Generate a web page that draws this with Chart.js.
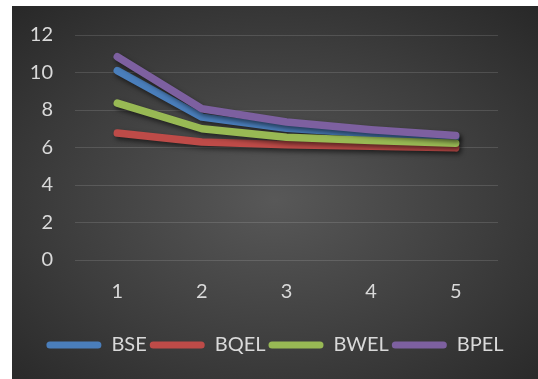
<!DOCTYPE html>
<html>
<head>
<meta charset="utf-8">
<script src="https://cdn.jsdelivr.net/npm/chart.js@4.4.1/dist/chart.umd.min.js"></script>
<style>
  html, body { margin: 0; padding: 0; background: #ffffff; }
  #wrap {
    position: absolute; left: 12px; top: 6px; width: 526px; height: 373px;
    background: radial-gradient(ellipse 75% 75% at 50% 52%, #585858 0%, #3d3d3d 55%, #262626 100%);
  }
  canvas { display: block; }
</style>
</head>
<body>
<div id="wrap"><canvas id="c" width="526" height="373"></canvas></div>
<script>
// x categories
const categories = ['1', '2', '3', '4', '5'];

// series values
const bse  = [10.1, 7.62, 7.03, 6.73, 6.55];
const bqel = [6.77, 6.29, 6.15, 6.07, 5.98];
const bwel = [8.37, 7.0, 6.55, 6.37, 6.23];
const bpel = [10.84, 8.07, 7.36, 6.95, 6.64];

const seriesNames  = ['BSE', 'BQEL', 'BWEL', 'BPEL'];
const seriesValues = [bse, bqel, bwel, bpel];
const seriesColors = ['#4a7ebb', '#be4b48', '#98b954', '#7d60a0'];

// y tick range
const yMin = 0, yMax = 12, yStep = 2;

const textColor = '#d9d9d9';
const fontFamily = 'Lato, "Open Sans", sans-serif';

// soft drop shadow beneath each line
const lineShadow = {
  id: 'lineShadow',
  beforeDatasetDraw(chart) {
    const ctx = chart.ctx;
    ctx.save();
    ctx.shadowColor = 'rgba(0,0,0,0.55)';
    ctx.shadowBlur = 5;
    ctx.shadowOffsetX = 2;
    ctx.shadowOffsetY = 3;
  },
  afterDatasetDraw(chart) {
    chart.ctx.restore();
  }
};

const datasets = seriesNames.map((name, i) => ({
  label: name,
  data: seriesValues[i],
  borderColor: seriesColors[i],
  backgroundColor: seriesColors[i],
  borderWidth: 7.5,
  borderCapStyle: 'round',
  borderJoinStyle: 'round',
  pointRadius: 0,
  tension: 0,
  yAxisID: 'y',
  order: seriesNames.length - i
}));

new Chart(document.getElementById('c'), {
  type: 'line',
  data: { labels: categories, datasets },
  plugins: [lineShadow],
  options: {
    responsive: false,
    animation: false,
    layout: { padding: { top: 29, right: 0, bottom: 14, left: 0 } },
    plugins: {
      tooltip: { enabled: false },
      legend: {
        position: 'bottom',
        labels: {
          color: textColor,
          font: { family: fontFamily, size: 20 },
          boxWidth: 55,
          boxHeight: 7,
          padding: 3,
          useBorderRadius: true,
          borderRadius: 3.5,
          generateLabels(chart) {
            return chart.data.datasets.map((ds, i) => ({
              text: ds.label,
              fillStyle: ds.borderColor,
              strokeStyle: ds.borderColor,
              lineWidth: 0,
              borderRadius: 3.5,
              fontColor: textColor,
              hidden: false,
              datasetIndex: i
            }));
          }
        }
      }
    },
    scales: {
      x: {
        offset: true,
        grid: { display: false, drawTicks: false },
        border: { display: false },
        ticks: { color: textColor, font: { family: fontFamily, size: 20 }, padding: 20 },
        afterFit(scale) { scale.height = 72; }
      },
      y: {
        min: yMin,
        max: yMax,
        grid: { color: 'rgba(255,255,255,0.13)', lineWidth: 1, drawTicks: false },
        border: { display: false },
        ticks: { stepSize: yStep, color: textColor, font: { family: fontFamily, size: 20 }, padding: 22 },
        afterFit(scale) {
          scale.width = 63;
          scale.paddingTop = 0;
          scale.paddingBottom = 0;
        }
      },
      // empty right margin keeping the plot narrower than the legend row
      yRight: {
        type: 'linear',
        position: 'right',
        grid: { display: false, drawTicks: false },
        border: { display: false },
        ticks: { display: false },
        afterFit(scale) {
          scale.width = 40;
          scale.paddingTop = 0;
          scale.paddingBottom = 0;
        }
      }
    }
  }
});
</script>
</body>
</html>
